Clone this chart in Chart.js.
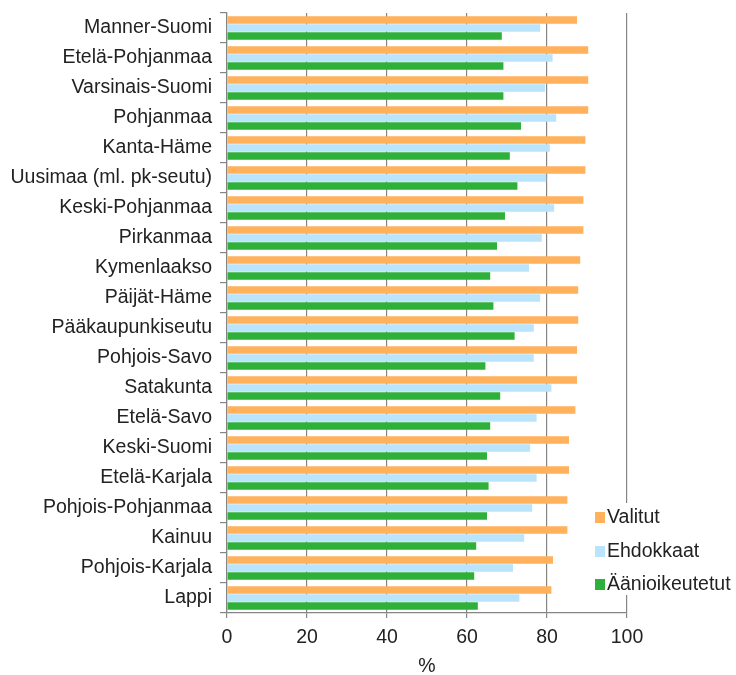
<!DOCTYPE html>
<html>
<head>
<meta charset="utf-8">
<script src="https://cdn.jsdelivr.net/npm/chart.js@4"></script>
<style>
  html, body { margin: 0; padding: 0; background: #fff; }
  #wrap { width: 736px; height: 675px; position: relative; }
</style>
</head>
<body>
<div id="wrap"><canvas id="bar-chart"></canvas></div>
<script>
const alueet = ['Manner-Suomi', 'Etelä-Pohjanmaa', 'Varsinais-Suomi', 'Pohjanmaa', 'Kanta-Häme',
	'Uusimaa (ml. pk-seutu)', 'Keski-Pohjanmaa', 'Pirkanmaa', 'Kymenlaakso', 'Päijät-Häme',
	'Pääkaupunkiseutu', 'Pohjois-Savo', 'Satakunta', 'Etelä-Savo', 'Keski-Suomi',
	'Etelä-Karjala', 'Pohjois-Pohjanmaa', 'Kainuu', 'Pohjois-Karjala', 'Lappi'];

const valitut = [87.5, 90.3, 90.3, 90.3, 89.6, 89.6, 89.1, 89.1, 88.3, 87.8,
	87.8, 87.5, 87.5, 87.1, 85.5, 85.5, 85.1, 85.1, 81.5, 81.1];

const ehdokkaat = [78.3, 81.4, 79.5, 82.3, 80.7, 79.8, 81.8, 78.7, 75.5, 78.3,
	76.7, 76.7, 81.1, 77.4, 75.8, 77.4, 76.3, 74.3, 71.5, 73.1];

const aanioikeutetut = [68.7, 69.1, 69.1, 73.5, 70.7, 72.6, 69.5, 67.5, 65.8, 66.6,
	71.9, 64.6, 68.3, 65.8, 65.0, 65.4, 65.0, 62.3, 61.8, 62.7];

const xTicks = [0, 20, 40, 60, 80, 100];

const fontFamily = '"Liberation Sans", Arial, sans-serif';
const fontSize = 19.5;
const textColor = '#222';
const gridColor = '#858585';

// legend drawn by hand over the plot, on a white box like the original
const omaLegend = {
	id: 'omaLegend',
	afterDraw(chart) {
		const ctx = chart.ctx;
		ctx.save();
		ctx.fillStyle = '#fff';
		ctx.fillRect(590, 503, 146, 92);
		ctx.font = fontSize + 'px ' + fontFamily;
		ctx.textBaseline = 'middle';
		ctx.textAlign = 'left';
		const rivit = [517, 551, 584];
		chart.data.datasets.forEach((ds, i) => {
			ctx.fillStyle = ds.backgroundColor;
			ctx.fillRect(595, rivit[i] - 5, 10, 11);
			ctx.fillStyle = textColor;
			ctx.fillText(ds.label, 607, rivit[i] + 1);
		});
		ctx.restore();
	}
};

new Chart(document.getElementById('bar-chart'), {
	type: 'bar',
	data: {
		labels: alueet,
		datasets: [
			{ label: 'Valitut', data: valitut, backgroundColor: '#ffb15c' },
			{ label: 'Ehdokkaat', data: ehdokkaat, backgroundColor: '#bae4fc' },
			{ label: 'Äänioikeutetut', data: aanioikeutetut, backgroundColor: '#2eb03a' }
		]
	},
	options: {
		indexAxis: 'y',
		responsive: true,
		maintainAspectRatio: false,
		animation: false,
		categoryPercentage: 0.8,
		barPercentage: 0.94,
		layout: { padding: { top: 13, right: 109, left: 0, bottom: 0 } },
		plugins: {
			legend: { display: false },
			tooltip: { enabled: false }
		},
		scales: {
			x: {
				min: 0,
				max: 100,
				afterBuildTicks: (scale) => { scale.ticks = xTicks.map(v => ({ value: v })); },
				afterFit: (scale) => { scale.height = 62; },
				grid: { color: gridColor, lineWidth: 1.2, tickLength: 5 },
				border: { color: gridColor, width: 1.2 },
				ticks: { color: textColor, font: { family: fontFamily, size: fontSize }, padding: 8 },
				title: {
					display: true,
					text: '%',
					color: textColor,
					font: { family: fontFamily, size: fontSize, lineHeight: 0.9 },
					padding: { top: 2, bottom: 0 }
				}
			},
			y: {
				afterFit: (scale) => {
					scale.width = 227;
					scale.paddingTop = 0;
					scale.paddingBottom = 0;
				},
				grid: { drawOnChartArea: false, offset: true, color: gridColor, tickLength: 7, lineWidth: 1.2 },
				border: { color: gridColor, width: 1.2 },
				ticks: { color: textColor, font: { family: fontFamily, size: fontSize }, padding: 8, autoSkip: false }
			}
		}
	},
	plugins: [omaLegend]
});
</script>
</body>
</html>
